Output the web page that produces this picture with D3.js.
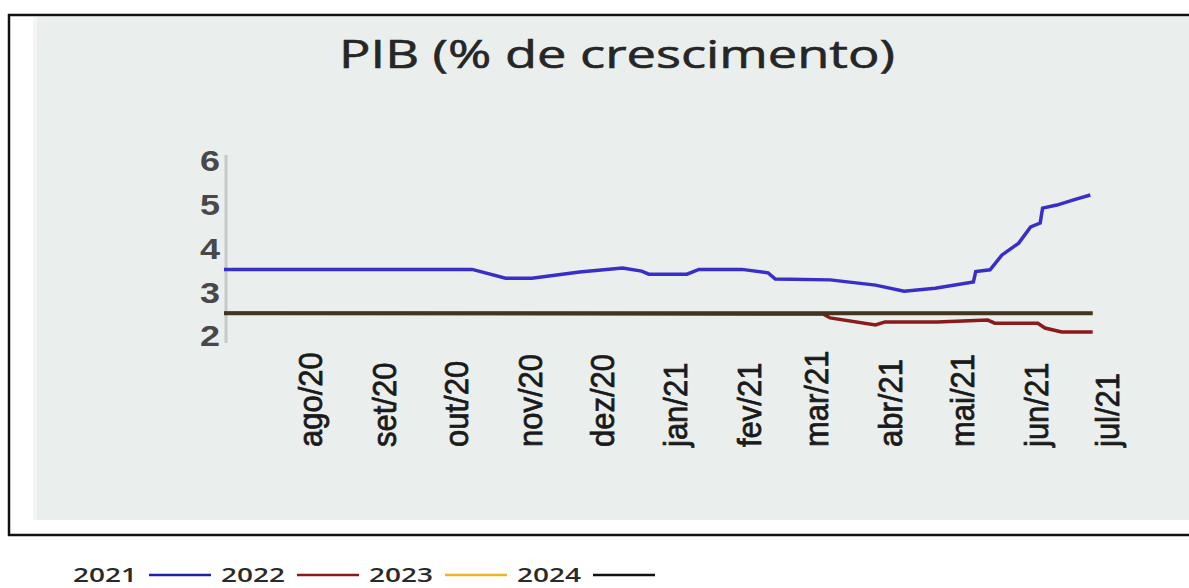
<!DOCTYPE html>
<html>
<head>
<meta charset="utf-8">
<script src="https://cdn.jsdelivr.net/npm/d3@7"></script>
<style>
  body { margin: 0; background: #fff; }
  svg { display: block; }
</style>
</head>
<body>
<svg id="chart" width="1189" height="588"></svg>
<script>
// dados (expectativa Focus para o PIB)
const titleText = "PIB (% de crescimento)";
const yTicks = [2, 3, 4, 5, 6];
const monthDates = ["2020-08-01","2020-09-01","2020-10-01","2020-11-01","2020-12-01","2021-01-01",
  "2021-02-01","2021-03-01","2021-04-01","2021-05-01","2021-06-01","2021-07-01"];
const monthLabels = ["ago/20","set/20","out/20","nov/20","dez/20","jan/21",
  "fev/21","mar/21","abr/21","mai/21","jun/21","jul/21"];

const dates2021 = ["2020-06-26","2020-10-08","2020-10-22","2020-11-02","2020-11-22","2020-12-10",
  "2020-12-18","2020-12-21","2021-01-06","2021-01-11","2021-01-29","2021-02-09","2021-02-12",
  "2021-03-07","2021-03-26","2021-04-07","2021-04-20","2021-05-06","2021-05-07","2021-05-13",
  "2021-05-18","2021-05-25","2021-05-30","2021-06-03","2021-06-04","2021-06-10","2021-06-17","2021-06-24"];
const values2021 = [3.50,3.50,3.30,3.30,3.44,3.53,3.46,3.39,3.39,3.50,3.50,3.42,3.28,
  3.26,3.14,3.00,3.07,3.21,3.45,3.49,3.83,4.10,4.47,4.56,4.90,4.97,5.09,5.20];

const dates2022 = ["2020-06-26","2021-03-04","2021-03-07","2021-03-26","2021-03-30","2021-04-21",
  "2021-05-12","2021-05-15","2021-06-02","2021-06-05","2021-06-12","2021-06-25"];
const values2022 = [2.50,2.48,2.39,2.23,2.30,2.30,2.34,2.27,2.27,2.16,2.07,2.07];

const dates2023 = ["2020-06-26","2021-06-25"];
const values2023 = [2.50,2.50];

const dates2024 = ["2020-06-26","2021-06-25"];
const values2024 = [2.50,2.50];

const legendYears = ["2021","2022","2023","2024"];
const legendColors = ["#2020a6","#8b1a1a","#f0b429","#111111"];

const parse = d3.timeParse("%Y-%m-%d");
const svg = d3.select("#chart");

// moldura e painel
svg.append("rect").attr("x",37).attr("y",17).attr("width",1160).attr("height",503).attr("fill","#eaeeed");
svg.append("rect").attr("x",33).attr("y",17).attr("width",4).attr("height",503).attr("fill","#f4f5f5");
svg.append("rect").attr("x",9).attr("y",15).attr("width",1200).attr("height",520)
  .attr("fill","none").attr("stroke","#111").attr("stroke-width",2.5);

svg.append("text").text(titleText)
  .attr("x",339).attr("y",68)
  .attr("textLength",556).attr("lengthAdjust","spacingAndGlyphs")
  .attr("font-family","'Open Sans', sans-serif").attr("font-size",39)
  .attr("fill","#262626").attr("stroke","#262626").attr("stroke-width",0.6);

const x = d3.scaleTime()
  .domain([parse("2020-06-26"), parse("2021-07-01")])
  .range([224, 1107]);
const y = d3.scaleLinear().domain([2, 6]).range([335, 160]);

// eixo y
svg.append("line").attr("x1",226).attr("x2",226).attr("y1",155).attr("y2",343)
  .attr("stroke","#c8c9c9").attr("stroke-width",3);
const yAxis = svg.append("g").attr("transform","translate(226,0)")
  .call(d3.axisLeft(y).tickValues(yTicks).tickSize(0).tickFormat(d3.format("d")));
yAxis.select(".domain").remove();
yAxis.selectAll("text")
  .attr("x",0).attr("dy","0.36em")
  .attr("transform","translate(-6,0) scale(1.2,1)")
  .attr("font-family","'Liberation Sans', Arial, sans-serif").attr("font-size",30)
  .attr("font-weight","bold").attr("fill","#484848");

// eixo x
const xAxis = svg.append("g").attr("transform","translate(0,447)")
  .call(d3.axisBottom(x).tickValues(monthDates.map(parse)).tickSize(0)
    .tickFormat((d,i) => monthLabels[i]));
xAxis.select(".domain").remove();
xAxis.selectAll("text")
  .attr("x",0).attr("y",0).attr("dy","0.35em")
  .attr("text-anchor","start")
  .attr("transform","scale(1.1,1) rotate(-90)")
  .attr("font-family","'Liberation Sans', Arial, sans-serif").attr("font-size",31)
  .attr("fill","#1a1a1a").attr("stroke","#1a1a1a").attr("stroke-width",0.7);

// linhas
const line = d3.line().x(d => x(d[0])).y(d => y(d[1]));
function zipSeries(ds, vs) { return ds.map((d,i) => [parse(d), vs[i]]); }

svg.append("path").datum(zipSeries(dates2021, values2021))
  .attr("d", line).attr("fill","none").attr("stroke","#3a2ec8").attr("stroke-width",3.5);
svg.append("path").datum(zipSeries(dates2022, values2022))
  .attr("d", line).attr("fill","none").attr("stroke","#8b1a1a").attr("stroke-width",3.5);
svg.append("path").datum(zipSeries(dates2023, values2023))
  .attr("d", line).attr("fill","none").attr("stroke","#f0b030").attr("stroke-width",3.5);
svg.append("path").datum(zipSeries(dates2024, values2024))
  .attr("d", line).attr("fill","none").attr("stroke","#1a1a1a").attr("stroke-opacity",0.82).attr("stroke-width",4);

// legenda
const legend = svg.append("g");
let lx = 73;
legendYears.forEach((yr, i) => {
  legend.append("text").text(yr).attr("x",lx).attr("y",582)
    .attr("textLength",64).attr("lengthAdjust","spacingAndGlyphs")
    .attr("font-family","'Open Sans', sans-serif").attr("font-size",20)
    .attr("font-weight",600).attr("fill","#2a2a2a");
  lx += 64 + 12;
  legend.append("line").attr("x1",lx).attr("x2",lx+62).attr("y1",575).attr("y2",575)
    .attr("stroke",legendColors[i]).attr("stroke-width",2.5);
  lx += 62 + 10;
});
</script>
</body>
</html>
